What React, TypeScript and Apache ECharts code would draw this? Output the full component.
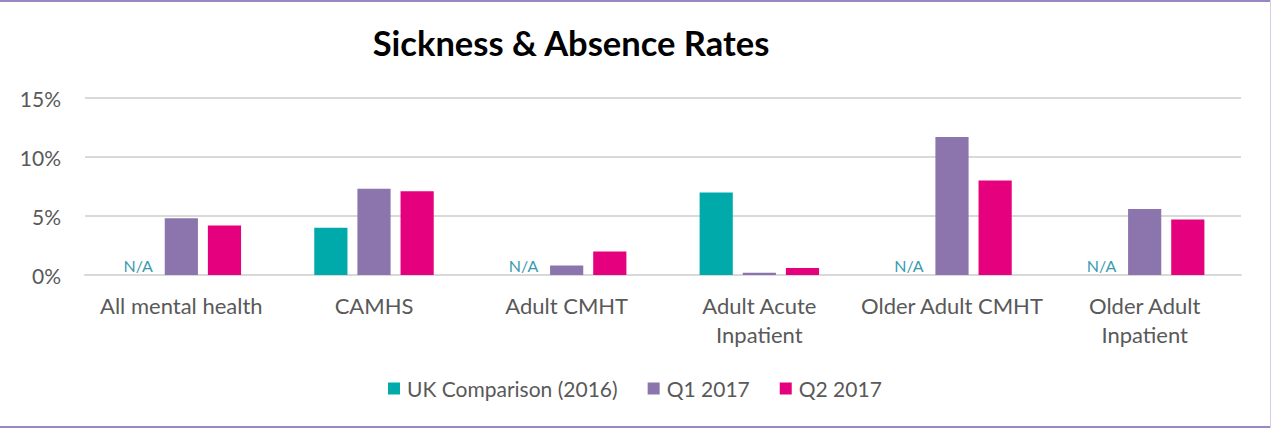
import React, { useEffect, useRef } from "react";
import * as echarts from "echarts";

const categories = [
  "All mental health",
  "CAMHS",
  "Adult CMHT",
  "Adult Acute\nInpatient",
  "Older Adult CMHT",
  "Older Adult\nInpatient",
];
// null = N/A
const ukComparison: (number | null)[] = [null, 4.0, null, 7.0, null, null];
const q1_2017 = [4.8, 7.3, 0.8, 0.2, 11.7, 5.6];
const q2_2017 = [4.2, 7.1, 2.0, 0.6, 8.0, 4.7];
const yTicks = [0, 5, 10, 15];

const FONT = "Lato, 'Open Sans', sans-serif";

export default function App() {
  const ref = useRef<HTMLDivElement>(null);
  useEffect(() => {
    document.body.style.margin = "0";
    if (!ref.current) return;
    const chart = echarts.init(ref.current, undefined, { renderer: "svg" });
    const W = 1271;
    const H = 428;
    chart.setOption({
      animation: false,
      backgroundColor: "#ffffff",
      textStyle: { fontFamily: FONT },
      title: {
        text: "Sickness & Absence Rates",
        left: 566,
        top: 20,
        textAlign: "center",
        textStyle: { fontFamily: FONT, fontWeight: "bold", fontSize: 34.5, color: "#000000" },
      },
      legend: {
        top: 373,
        left: 383,
        itemWidth: 12,
        itemHeight: 12,
        itemGap: 30,
        icon: "rect",
        textStyle: { fontFamily: FONT, fontSize: 21, color: "#595959", padding: [0, 0, 0, 2] },
        data: ["UK Comparison (2016)", "Q1 2017", "Q2 2017"],
      },
      grid: { left: 85, right: 30, top: 98, bottom: 153 },
      xAxis: {
        type: "category",
        data: categories,
        axisLine: { lineStyle: { color: "#D9D9D9", width: 2 } },
        axisTick: { show: false },
        axisLabel: {
          fontFamily: FONT,
          fontSize: 22,
          color: "#595959",
          margin: 16,
          lineHeight: 29,
          interval: 0,
        },
      },
      yAxis: {
        type: "value",
        min: yTicks[0],
        max: yTicks[yTicks.length - 1],
        interval: 5,
        axisLine: { show: false },
        axisTick: { show: false },
        splitLine: { lineStyle: { color: "#D9D9D9", width: 2 } },
        axisLabel: {
          formatter: "{value}%",
          fontFamily: FONT,
          fontSize: 21,
          color: "#595959",
          margin: 24,
        },
      },
      series: [
        {
          name: "UK Comparison (2016)",
          type: "bar",
          barGap: "30%",
          barCategoryGap: "38%",
          itemStyle: { color: "#00AAAA" },
          data: ukComparison.map((v) =>
            v === null
              ? {
                  value: 0,
                  label: {
                    show: true,
                    position: "top",
                    distance: 2,
                    formatter: "N/A",
                    color: "#3A9BB0",
                    fontSize: 16,
                    fontFamily: FONT,
                  },
                }
              : v
          ),
        },
        {
          name: "Q1 2017",
          type: "bar",
          barGap: "30%",
          barCategoryGap: "38%",
          itemStyle: { color: "#8C74AC" },
          data: q1_2017,
        },
        {
          name: "Q2 2017",
          type: "bar",
          barGap: "30%",
          barCategoryGap: "38%",
          itemStyle: { color: "#E5007D" },
          data: q2_2017,
        },
      ],
      graphic: [
        { type: "rect", shape: { x: 0, y: 0, width: W, height: 2 }, style: { fill: "#9B87C2" } },
        { type: "rect", shape: { x: 0, y: H - 2, width: W, height: 2 }, style: { fill: "#9B87C2" } },
        { type: "rect", shape: { x: W - 1, y: 0, width: 1, height: H }, style: { fill: "#D8CFE6" } },
      ],
    });
    return () => chart.dispose();
  }, []);
  return <div ref={ref} style={{ width: 1271, height: 428 }} />;
}
